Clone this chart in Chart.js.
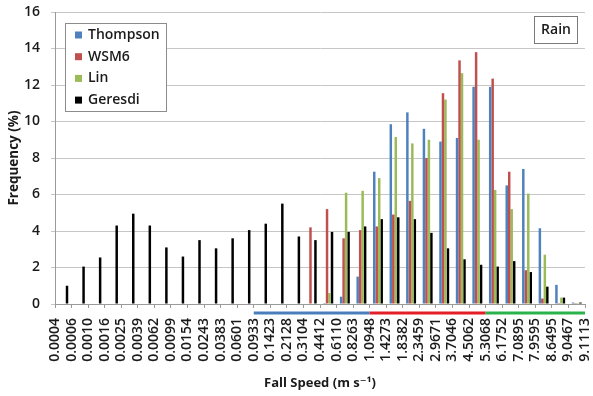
<!DOCTYPE html>
<html>
<head>
<meta charset="utf-8">
<script src="https://cdn.jsdelivr.net/npm/chart.js@4"></script>
<style>
  html, body { margin: 0; padding: 0; background: #fff; }
  #wrap { width: 593px; height: 396px; }
</style>
</head>
<body>
<div id="wrap"><canvas id="speedChart" width="593" height="396"></canvas></div>
<script>
// Fall speed bin edges (m/s), labelled at the tick marks between bars
const edgeLabels = ['0.0004', '0.0006', '0.0010', '0.0016', '0.0025', '0.0039', '0.0062', '0.0099',
  '0.0154', '0.0243', '0.0383', '0.0601', '0.0933', '0.1423', '0.2128', '0.3104', '0.4412', '0.6110',
  '0.8263', '1.0948', '1.4273', '1.8382', '2.3459', '2.9671', '3.7046', '4.5062', '5.3068', '6.1752',
  '7.0895', '7.9595', '8.6495', '9.0467', '9.1113'];

// Frequency (%) per bin, one value per gap between two edges
const thompson = [0, 0, 0, 0, 0, 0, 0, 0, 0, 0, 0, 0, 0, 0, 0, 0,
  0.05, 0.4, 1.5, 7.25, 9.85, 10.5, 9.6, 8.9, 9.1, 11.9, 11.9, 6.5, 7.4, 4.15, 1.05, 0.08];
const wsm6 = [0, 0, 0, 0, 0, 0, 0, 0, 0, 0, 0, 0, 0, 0, 0, 4.2,
  5.2, 3.6, 4.05, 4.25, 4.9, 5.65, 8.0, 11.55, 13.35, 13.8, 12.35, 7.25, 1.85, 0.3, 0.05, 0.05];
const lin = [0, 0, 0, 0, 0, 0, 0, 0, 0, 0, 0, 0, 0, 0, 0, 0,
  0.6, 6.1, 6.2, 6.9, 9.15, 8.8, 9.0, 11.2, 12.65, 9.0, 6.25, 5.2, 6.05, 2.7, 0.35, 0.05];
const geresdi = [1.0, 2.05, 2.55, 4.3, 4.95, 4.3, 3.1, 2.6, 3.5, 3.05, 3.6, 4.05, 4.4, 5.5, 3.7, 3.5,
  3.95, 3.95, 4.25, 4.65, 4.75, 4.65, 3.9, 3.05, 2.45, 2.15, 2.05, 2.35, 1.75, 0.95, 0.35, 0.08];

const seriesNames = ['Thompson', 'WSM6', 'Lin', 'Geresdi'];
const seriesColors = ['#4f81bd', '#c0504d', '#9bbb59', '#000000'];

// Speed ranges marked by coloured strips under the axis
const rangeStart = ['0.0933', '1.0948', '5.3068'];
const rangeEnd = ['1.0948', '5.3068', '9.1113'];
const rangeColors = ['#4a7ebb', '#e41e26', '#2bb34b'];

const panelLabel = 'Rain';

const binLabels = geresdi.map((_, i) => edgeLabels[i] + '-' + edgeLabels[i + 1]);
const FONT = "'Open Sans', 'DejaVu Sans', sans-serif";

const rangeStrips = {
  id: 'rangeStrips',
  afterDraw(chart) {
    const ctx = chart.ctx;
    const sc = chart.scales.xEdges;
    const y = chart.chartArea.bottom + 9;
    ctx.save();
    ctx.lineWidth = 3;
    rangeStart.forEach((s, i) => {
      const x1 = sc.getPixelForValue(edgeLabels.indexOf(s));
      const x2 = sc.getPixelForValue(edgeLabels.indexOf(rangeEnd[i]));
      ctx.strokeStyle = rangeColors[i];
      ctx.beginPath();
      ctx.moveTo(x1, y);
      ctx.lineTo(x2, y);
      ctx.stroke();
    });
    ctx.restore();
  }
};

// Boxed legend in the upper left and the panel tag in the upper right
const boxes = {
  id: 'boxes',
  afterDraw(chart) {
    const ctx = chart.ctx;
    const area = chart.chartArea;
    ctx.save();

    const lx = area.left + 10, ly = area.top + 11;
    ctx.fillStyle = '#fff';
    ctx.fillRect(lx, ly, 101, 88);
    ctx.strokeStyle = '#8c8c8c';
    ctx.lineWidth = 1;
    ctx.strokeRect(lx + 0.5, ly + 0.5, 101, 88);
    ctx.font = '600 14px ' + FONT;
    ctx.textBaseline = 'middle';
    chart.data.datasets.forEach((ds, i) => {
      const cy = ly + 12 + i * 21.7;
      ctx.fillStyle = ds.backgroundColor;
      ctx.fillRect(lx + 10, cy - 3.5, 7, 7);
      ctx.fillStyle = '#1a1a1a';
      ctx.fillText(ds.label, lx + 23, cy);
    });

    const rw = 43, rh = 27;
    const rx = area.right - rw - 8, ry = area.top + 4;
    ctx.fillStyle = '#fff';
    ctx.fillRect(rx, ry, rw, rh);
    ctx.strokeStyle = '#7a7a7a';
    ctx.strokeRect(rx + 0.5, ry + 0.5, rw, rh);
    ctx.fillStyle = '#1a1a1a';
    ctx.textAlign = 'center';
    ctx.fillText(panelLabel, rx + rw / 2 + 0.5, ry + rh / 2 + 1);
    ctx.restore();
  }
};

const ctx = document.getElementById('speedChart').getContext('2d');
new Chart(ctx, {
  type: 'bar',
  data: {
    labels: binLabels,
    datasets: [thompson, wsm6, lin, geresdi].map((vals, i) => ({
      label: seriesNames[i],
      data: vals,
      backgroundColor: seriesColors[i],
      borderWidth: 0,
      xAxisID: 'x',
      categoryPercentage: 0.6,
      barPercentage: 1.0
    }))
  },
  options: {
    responsive: false,
    animation: false,
    layout: { padding: { left: 2, right: 8, top: 12, bottom: 0 } },
    plugins: {
      legend: { display: false },
      tooltip: { enabled: false }
    },
    scales: {
      x: {
        display: false
      },
      xEdges: {
        type: 'category',
        position: 'bottom',
        labels: edgeLabels,
        offset: false,
        afterFit(scale) {
          scale.height = 92;
          scale.paddingLeft = 0;
          scale.paddingRight = 0;
        },
        grid: {
          offset: false,
          drawOnChartArea: false,
          drawTicks: true,
          tickLength: 4,
          color: '#9a9a9a'
        },
        border: { color: '#9a9a9a' },
        ticks: {
          autoSkip: false,
          minRotation: 90,
          maxRotation: 90,
          padding: 10,
          color: '#1a1a1a',
          font: { family: FONT, size: 14, weight: '600' }
        },
        title: {
          display: true,
          text: 'Fall Speed (m s\u207B\u00B9)',
          color: '#1a1a1a',
          font: { family: FONT, size: 13, weight: 'bold' },
          padding: { top: 4, bottom: 5 }
        }
      },
      y: {
        min: 0,
        max: 16,
        afterFit(scale) {
          scale.width = 53;
          scale.paddingTop = 0;
          scale.paddingBottom = 0;
        },
        ticks: {
          stepSize: 2,
          padding: 11,
          color: '#1a1a1a',
          font: { family: FONT, size: 14, weight: '600' }
        },
        grid: {
          color: '#c6c6c6',
          tickLength: 4
        },
        border: { color: '#9a9a9a' },
        title: {
          display: true,
          text: 'Frequency (%)',
          color: '#1a1a1a',
          font: { family: FONT, size: 13.5, weight: 'bold' },
          padding: { top: 4, bottom: 4 }
        }
      }
    }
  },
  plugins: [rangeStrips, boxes]
});
</script>
</body>
</html>
